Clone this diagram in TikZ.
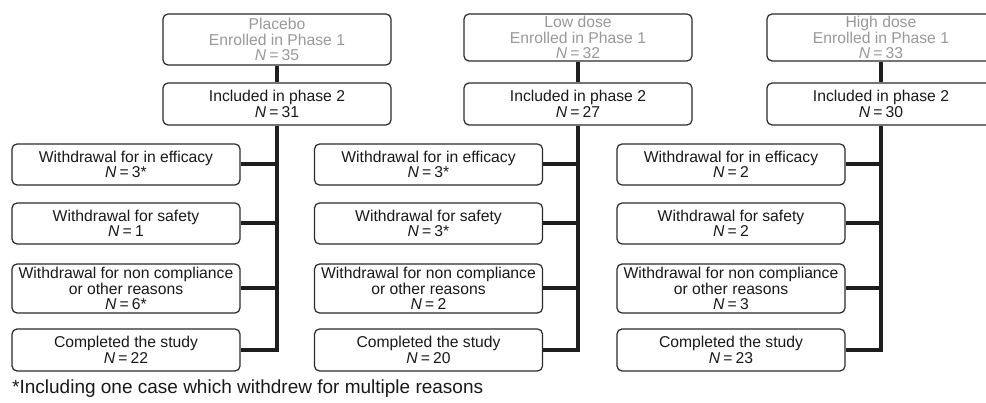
\documentclass[tikz,border=0pt]{standalone}
\usepackage{fontspec}
\setmainfont{Liberation Sans}
\definecolor{boxline}{HTML}{2A2A2A}
\definecolor{graytext}{HTML}{999999}
\definecolor{conncol}{HTML}{1E1E1E}
\newcommand{\NN}[1]{\textit{N}\hspace{0.2em}=\hspace{0.2em}#1}
\begin{document}
\begin{tikzpicture}[x=1pt,y=-1pt,
  boxbase/.style={draw=boxline, line width=1.2pt, rounded corners=5pt, inner sep=0pt,
    align=center, minimum width=228pt, text=black!90,
    font=\fontsize{15.7}{15.6}\selectfont},
  topbox/.style={boxbase, minimum height=49pt, text=graytext},
  incbox/.style={boxbase, minimum height=42pt},
  wbox/.style={boxbase, minimum height=41pt},
  wbox3/.style={boxbase, minimum height=49pt},
  wbox4/.style={boxbase, minimum height=42pt},
  conn/.style={draw=conncol, line width=4pt},
  note/.style={anchor=base west, inner sep=0pt, text=black!90, font=\fontsize{19}{22}\selectfont}]
\useasboundingbox (0,0) rectangle (986,403);
\clip (0,0) rectangle (986,403);
\fill[white] (0,0) rectangle (986,403);

% ---------- Placebo ----------
\node[topbox, minimum height=51pt] (ptop) at (277,39.5) {Placebo\\Enrolled in Phase 1\\\NN{35}};
\node[incbox] (pinc) at (277,104) {Included in phase 2\\\NN{31}};
\node[wbox] (pw1) at (126,164.5) {Withdrawal for in efficacy\\\NN{3*}};
\node[wbox] (pw2) at (126,223.5) {Withdrawal for safety\\\NN{1}};
\node[wbox3] (pw3) at (126,288.5) {Withdrawal for non compliance\\or other reasons\\\NN{6*}};
\node[wbox4] (pw4) at (126,350) {Completed the study\\\NN{22}};

% ---------- Low dose ----------
\node[topbox, minimum height=47pt] (ltop) at (578,37.5) {Low dose\\Enrolled in Phase 1\\\NN{32}};
\node[incbox] (linc) at (578,104) {Included in phase 2\\\NN{27}};
\node[wbox] (lw1) at (428.5,164.5) {Withdrawal for in efficacy\\\NN{3*}};
\node[wbox] (lw2) at (428.5,223.5) {Withdrawal for safety\\\NN{3*}};
\node[wbox3] (lw3) at (428.5,288.5) {Withdrawal for non compliance\\or other reasons\\\NN{2}};
\node[wbox4] (lw4) at (428.5,350) {Completed the study\\\NN{20}};

% ---------- High dose ----------
\node[topbox, minimum height=47pt] (htop) at (881,37.5) {High dose\\Enrolled in Phase 1\\\NN{33}};
\node[incbox] (hinc) at (881,104) {Included in phase 2\\\NN{30}};
\node[wbox] (hw1) at (731,164.5) {Withdrawal for in efficacy\\\NN{2}};
\node[wbox] (hw2) at (731,223.5) {Withdrawal for safety\\\NN{2}};
\node[wbox3] (hw3) at (731,288.5) {Withdrawal for non compliance\\or other reasons\\\NN{3}};
\node[wbox4] (hw4) at (731,350) {Completed the study\\\NN{23}};

% ---------- connectors ----------
\foreach \g in {p,l,h}{
  \draw[conn] (\g top.south) -- (\g inc.north);
  \draw[conn] (\g inc.south) -- (\g inc.south |- \g w4.east) -- (\g w4.east);
  \draw[conn] (\g w1.east) -- (\g w1.east -| \g inc.south);
  \draw[conn] (\g w2.east) -- (\g w2.east -| \g inc.south);
  \draw[conn] (\g w3.east) -- (\g w3.east -| \g inc.south);
}

\node[note] (fn) at (12,394) {*Including one case which withdrew for multiple reasons};
\end{tikzpicture}
\end{document}
